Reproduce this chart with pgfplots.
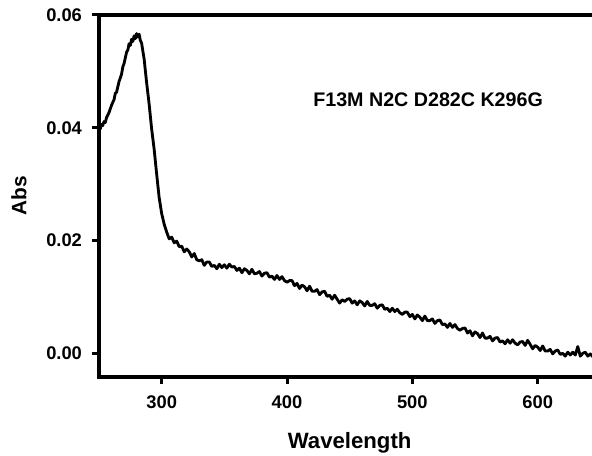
\documentclass[border=0pt]{standalone}
\usepackage{fontspec}
\setmainfont{Liberation Sans}
\usepackage{pgfplots}
\pgfplotsset{compat=1.18}

\begin{document}
\begin{tikzpicture}
\begin{axis}[
  scale only axis,
  width=300.8pt, height=217.2pt,
  xmin=250, xmax=650, ymin=-0.0042, ymax=0.06,
  enlargelimits=false,
  xtick={300,400,500,600},
  ytick={0,0.02,0.04,0.06},
  scaled y ticks=false,
  xtick pos=bottom, ytick pos=left,
  tick align=outside,
  major tick length=4.2pt,
  tick style={line width=1.8pt, black},
  axis line style={line width=1.9pt},
  /pgf/number format/assume math mode=true,
  every tick label/.append style={font=\bfseries\fontsize{11}{13}\selectfont},
  yticklabel style={/pgf/number format/fixed, /pgf/number format/fixed zerofill,
    /pgf/number format/precision=2, xshift=-2.5pt},
  xticklabel style={yshift=-3.5pt},
  xlabel={Wavelength}, ylabel={Abs},
  every axis x label/.style={at={(rel axis cs:0.5,0)}, yshift=-42.8pt, anchor=base,
    font=\bfseries\fontsize{13.3}{15}\selectfont},
  every axis y label/.style={at={(rel axis cs:0,0.5)}, xshift=-48pt, rotate=90, anchor=center,
    font=\bfseries\fontsize{12.5}{15}\selectfont},
]
\addplot[black, line width=1.7pt, line join=round] coordinates {
(250,0.0402) (251,0.0398) (252,0.0406) (253,0.0404) (254,0.0411) (255,0.0409)
(256,0.0418) (258,0.0427) (260,0.0440) (262,0.0450) (263,0.0461) (264,0.0463)
(266,0.0482) (268,0.0495) (269,0.0508) (270,0.0514) (272,0.0534) (273,0.0538)
(274,0.0549) (275,0.0546) (276,0.0557) (277,0.0553) (278,0.0563) (279,0.0558)
(280,0.0567) (281,0.0561) (282,0.0566) (283,0.0555) (284,0.0550) (286,0.0522)
(288,0.0480) (290,0.0442) (292,0.0398) (294,0.0362) (296,0.0318) (298,0.0276)
(300,0.0248) (302,0.0229) (304,0.0215) (306,0.0203) (308,0.0206) (310,0.0196)
(312,0.0199) (314,0.0189) (316,0.0190) (318,0.0180) (320,0.0185) (322,0.0180)
(324,0.0171) (326,0.0177) (328,0.0166) (330,0.0164) (332,0.0166) (334,0.0156)
(336,0.0162) (338,0.0162) (340,0.0154) (342,0.0156) (344,0.0150) (346,0.0158)
(348,0.0152) (350,0.0157) (352,0.0151) (354,0.0158) (356,0.0153) (358,0.0154)
(360,0.0147) (362,0.0151) (364,0.0143) (366,0.0150) (368,0.0147) (370,0.0141)
(372,0.0149) (374,0.0141) (376,0.0142) (378,0.0145) (380,0.0137) (382,0.0142)
(384,0.0143) (386,0.0135) (388,0.0137) (390,0.0131) (392,0.0138) (394,0.0131)
(396,0.0136) (398,0.0129) (400,0.0126) (402,0.0129) (404,0.0129) (406,0.0120)
(408,0.0124) (410,0.0115) (412,0.0121) (414,0.0118) (416,0.0111) (418,0.0119)
(420,0.0110) (422,0.0110) (424,0.0113) (426,0.0104) (428,0.0109) (430,0.0110)
(432,0.0101) (434,0.0103) (436,0.0096) (438,0.0103) (440,0.0096) (442,0.0089)
(444,0.0095) (446,0.0092) (448,0.0096) (450,0.0097) (452,0.0089) (454,0.0093)
(456,0.0086) (458,0.0093) (460,0.0090) (462,0.0084) (464,0.0092) (466,0.0085)
(468,0.0085) (470,0.0088) (472,0.0080) (474,0.0085) (476,0.0086) (478,0.0078)
(480,0.0080) (482,0.0074) (484,0.0080) (486,0.0074) (488,0.0078) (490,0.0072)
(492,0.0069) (494,0.0073) (496,0.0073) (498,0.0065) (500,0.0069) (502,0.0061)
(504,0.0068) (506,0.0064) (508,0.0058) (510,0.0066) (512,0.0058) (514,0.0058)
(516,0.0061) (518,0.0053) (520,0.0058) (522,0.0059) (524,0.0051) (526,0.0052)
(528,0.0046) (530,0.0053) (532,0.0046) (534,0.0051) (536,0.0044) (538,0.0041)
(540,0.0044) (542,0.0045) (544,0.0036) (546,0.0040) (548,0.0031) (550,0.0038)
(552,0.0035) (554,0.0028) (556,0.0036) (558,0.0027) (560,0.0027) (562,0.0030)
(564,0.0022) (566,0.0027) (568,0.0028) (570,0.0020) (572,0.0022) (574,0.0017)
(576,0.0024) (578,0.0018) (580,0.0024) (582,0.0018) (584,0.0015) (586,0.0020)
(588,0.0021) (590,0.0014) (592,0.0023) (594,0.0016) (596,0.0008) (598,0.0014)
(600,0.0011) (602,0.0005) (604,0.0013) (606,0.0004) (608,0.0004) (610,0.0007)
(612,-0.0001) (614,0.0004) (616,0.0006) (618,-0.0002) (620,0.0000) (622,-0.0005)
(624,0.0002) (626,-0.0003) (628,0.0002) (630,-0.0003) (632,0.0012) (634,-0.0005)
(636,0.0000) (638,0.0002) (640,-0.0005) (642,-0.0001) (644,-0.0006) (646,0.0001)
(648,-0.0003) (650,0.0000)
};
\node[font=\bfseries\fontsize{11.8}{14}\selectfont, anchor=center]
  at (axis cs:512.6,0.0450) {F13M N2C D282C K296G};
\end{axis}
\pgfresetboundingbox
\path[use as bounding box]
  ([xshift=-59.4pt,yshift=-46.8pt]current axis.south west)
  rectangle ([xshift=295.8pt,yshift=226.2pt]current axis.south west);
\end{tikzpicture}
\end{document}
